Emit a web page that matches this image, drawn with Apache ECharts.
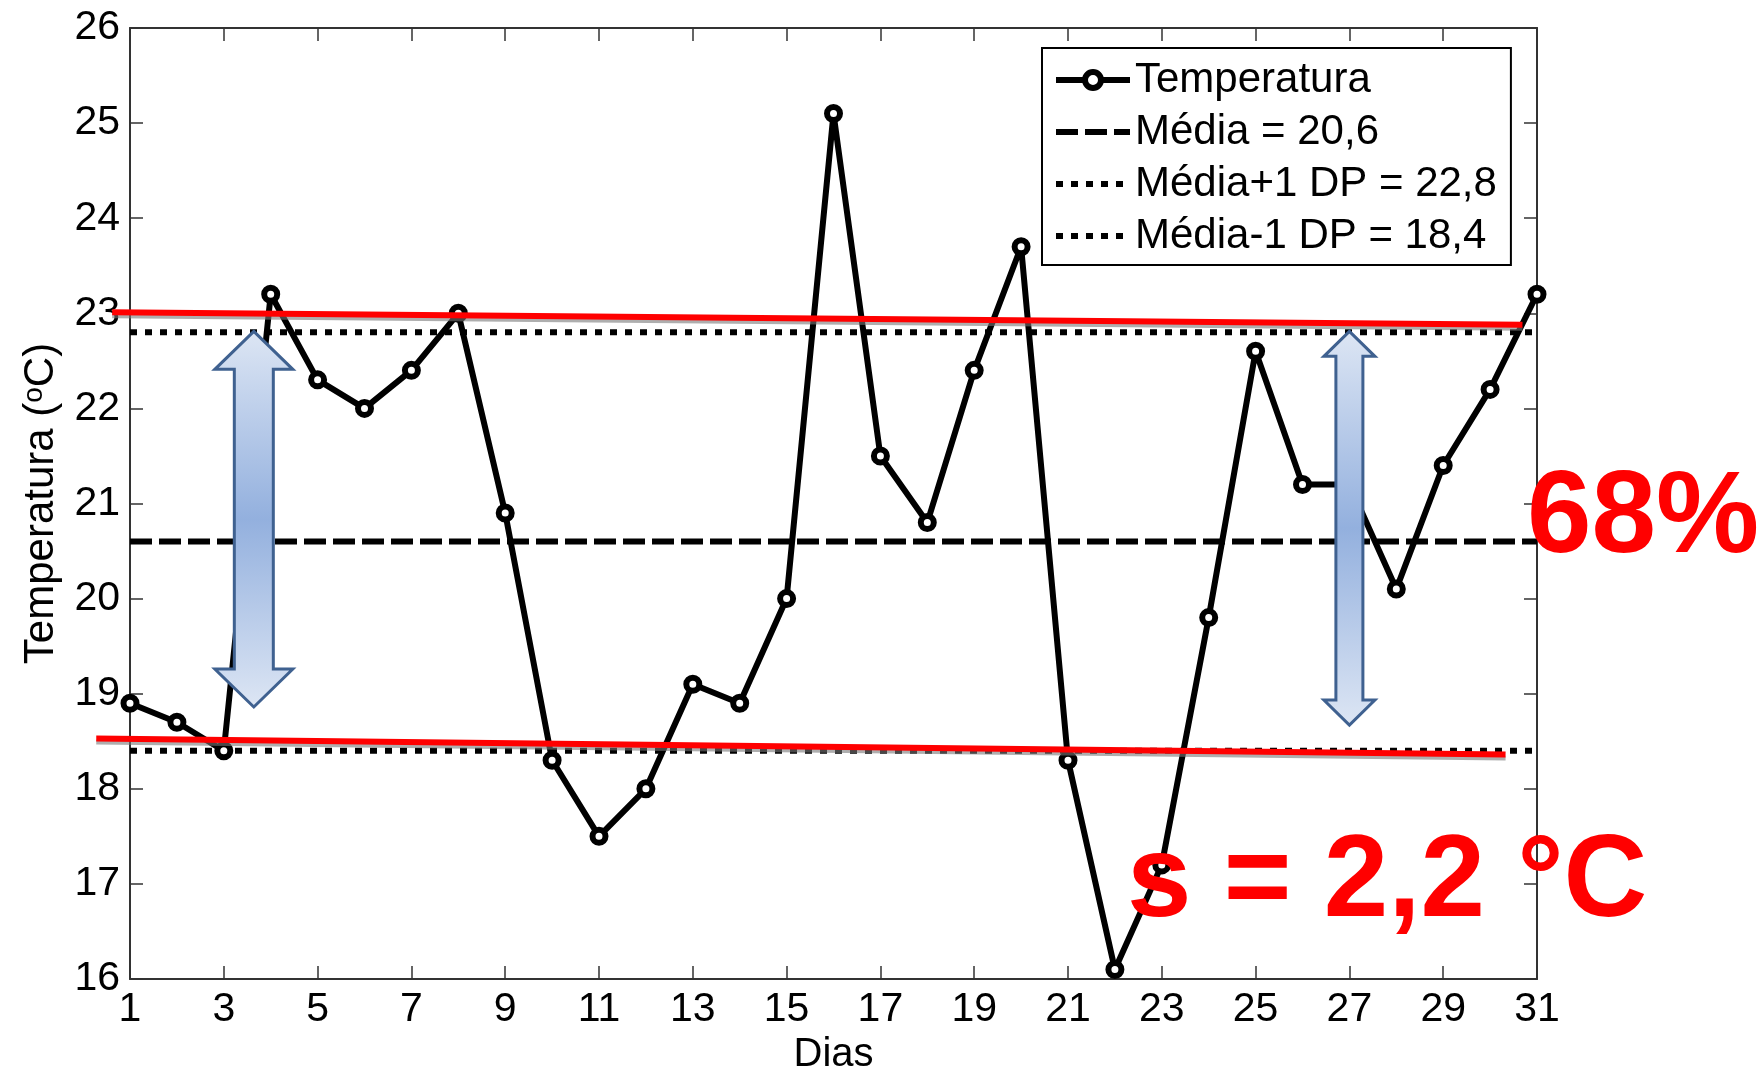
<!DOCTYPE html>
<html>
<head>
<meta charset="utf-8">
<title>Temperatura diária</title>
<script src="https://cdn.jsdelivr.net/npm/echarts@6/dist/echarts.min.js"></script>
<style>
html,body{margin:0;padding:0;background:#fff;}
#chart{width:1762px;height:1068px;}
</style>
</head>
<body>
<div id="chart"></div>
<script>
/* temperatura diária com média e +/- 1 desvio padrão */

var dias = [1,2,3,4,5,6,7,8,9,10,11,12,13,14,15,16,17,18,19,20,21,22,23,24,25,26,27,28,29,30,31];
var temperatura = [18.9,18.7,18.4,23.2,22.3,22.0,22.4,23.0,20.9,18.3,17.5,18.0,19.1,18.9,20.0,25.1,21.5,20.8,22.4,23.7,18.3,16.1,17.2,19.8,22.6,21.2,21.2,20.1,21.4,22.2,23.2];
var media = 20.6;
var mediaMais = 22.8;
var mediaMenos = 18.4;
var xTicks = [1,3,5,7,9,11,13,15,17,19,21,23,25,27,29,31];
var nomes = ['Temperatura','Média = 20,6','Média+1 DP = 22,8','Média-1 DP = 18,4'];

// linhas vermelhas desenhadas à mão sobre a figura [dia, temp]
var linhaSup = [[0.62, 23.01], [30.69, 22.88]];
var linhaInf = [[0.28, 18.53], [30.33, 18.36]];
// setas duplas: [dia, topo, base]
var setas = [[3.64, 22.81, 18.86], [27.0, 22.81, 18.67]];

var FONT = "'Liberation Sans', Arial, sans-serif";
var AX = '#333';
var TRACO = [22, 7];
var PONTO = [7, 8];

var dom = document.getElementById('chart');
var myChart = echarts.init(dom);

function pares(xs, ys){
  var out = [];
  for (var i = 0; i < xs.length; i++) out.push([xs[i], ys[i]]);
  return out;
}
function horizontal(v){
  return [[dias[0], v], [dias[dias.length-1], v]];
}

function eixoX(pos, labels){
  return {
    type: 'value', min: 1, max: 31, position: pos,
    axisLine: {show: true, onZero: false, lineStyle: {color: AX, width: 2}},
    axisTick: {show: true, inside: true, length: 13, customValues: xTicks, lineStyle: {color: AX, width: 1.5}},
    axisLabel: {show: labels, customValues: xTicks, fontSize: 41, fontFamily: FONT, color: '#000', margin: 10},
    splitLine: {show: false}
  };
}
function eixoY(pos, labels){
  return {
    type: 'value', min: 16, max: 26, interval: 1, position: pos,
    axisLine: {show: true, onZero: false, lineStyle: {color: AX, width: 2}},
    axisTick: {show: true, inside: true, length: 13, lineStyle: {color: AX, width: 1.5}},
    axisLabel: {show: labels, fontSize: 41, fontFamily: FONT, color: '#000', margin: 10},
    splitLine: {show: false}
  };
}

var xA = eixoX('bottom', true);
xA.name = 'Dias'; xA.nameLocation = 'middle'; xA.nameGap = 52;
xA.nameTextStyle = {fontSize: 40, fontFamily: FONT, color: '#000'};
var yA = eixoY('left', true);
yA.name = 'Temperatura ({s|o}C)'; yA.nameLocation = 'middle'; yA.nameGap = 68;
yA.nameTextStyle = {fontSize: 42, fontFamily: FONT, color: '#000',
  rich: {s: {fontSize: 28, fontFamily: FONT, color: '#000', verticalAlign: 'top'}}};

option = {
  animation: false,
  backgroundColor: '#fff',
  grid: {left: 130, right: 225, top: 28, bottom: 89, containLabel: false, outerBoundsMode: 'none'},
  legend: {
    data: [
      {name: nomes[0]},
      {name: nomes[1], itemStyle: {opacity: 0}},
      {name: nomes[2], itemStyle: {opacity: 0}},
      {name: nomes[3], itemStyle: {opacity: 0}}
    ],
    orient: 'vertical',
    left: 1042, top: 48,
    padding: [11, 14, 8, 11],
    itemWidth: 74, itemHeight: 20, itemGap: 10,
    backgroundColor: '#fff', borderColor: '#000', borderWidth: 2,
    lineStyle: {width: 'inherit', type: 'inherit', color: '#000'},
    itemStyle: {borderWidth: 'inherit'},
    textStyle: {fontSize: 42, fontFamily: FONT, color: '#000'}
  },
  xAxis: [xA, eixoX('top', false)],
  yAxis: [yA, eixoY('right', false)],
  series: [
    {
      name: nomes[1], type: 'line', data: horizontal(media), symbol: 'none', silent: true,
      color: '#000', lineStyle: {color: '#000', width: 6, type: TRACO}, z: 2
    },
    {
      name: nomes[2], type: 'line', data: horizontal(mediaMais), symbol: 'none', silent: true,
      color: '#000', lineStyle: {color: '#000', width: 6, type: PONTO}, z: 2
    },
    {
      name: nomes[3], type: 'line', data: horizontal(mediaMenos), symbol: 'none', silent: true,
      color: '#000', lineStyle: {color: '#000', width: 6, type: PONTO}, z: 2
    },
    {
      name: nomes[0], type: 'line', data: pares(dias, temperatura),
      symbol: 'circle', symbolSize: 13, color: '#000',
      lineStyle: {color: '#000', width: 6},
      itemStyle: {color: '#fff', borderColor: '#000', borderWidth: 6},
      z: 3
    }
  ]
};
myChart.setOption(option, true);

function px(p){
  return myChart.convertToPixel({xAxisIndex: 0, yAxisIndex: 0}, p);
}

// linhas vermelhas, setas azuis e textos vermelhos
var graficos = [];
[linhaSup, linhaInf].forEach(function(l){
  var a = px(l[0]), b = px(l[1]);
  graficos.push({
    type: 'line', z: 90, silent: true,
    shape: {x1: a[0], y1: a[1] + 4, x2: b[0], y2: b[1] + 4},
    style: {stroke: 'rgba(120,120,120,0.6)', lineWidth: 4}
  });
  graficos.push({
    type: 'line', z: 91, silent: true,
    shape: {x1: a[0], y1: a[1], x2: b[0], y2: b[1]},
    style: {stroke: '#ff0000', lineWidth: 6}
  });
});

var cabeca = [[39, 38, 19.5], [25.5, 25, 13.5]]; // meia largura, altura da ponta, meia largura da haste
setas.forEach(function(s, i){
  var t = px([s[0], s[1]]);
  var b = px([s[0], s[2]]);
  var cx = t[0], top = t[1], bot = b[1];
  var hw = cabeca[i][0], hh = cabeca[i][1], sw = cabeca[i][2];
  graficos.push({
    type: 'polygon', z: 100, silent: true,
    shape: {points: [
      [cx, top], [cx+hw, top+hh], [cx+sw, top+hh], [cx+sw, bot-hh], [cx+hw, bot-hh],
      [cx, bot], [cx-hw, bot-hh], [cx-sw, bot-hh], [cx-sw, top+hh], [cx-hw, top+hh]
    ]},
    style: {
      fill: {type: 'linear', x: 0, y: 0, x2: 0, y2: 1, colorStops: [
        {offset: 0, color: '#dde6f4'}, {offset: 0.5, color: '#93b0de'}, {offset: 1, color: '#dde6f4'}
      ]},
      stroke: '#3f6190', lineWidth: 3, lineJoin: 'miter'
    }
  });
});
graficos.push({
  type: 'text', z: 110, silent: true, x: 1527, y: 520,
  style: {text: '68%', fontSize: 116, fontWeight: 'bold', fontFamily: FONT, fill: '#ff0000', align: 'left', verticalAlign: 'middle'}
});
graficos.push({
  type: 'text', z: 110, silent: true, x: 1127, y: 884,
  style: {text: 's = 2,2 °C', fontSize: 116, fontWeight: 'bold', fontFamily: FONT, fill: '#ff0000', align: 'left', verticalAlign: 'middle'}
});
myChart.setOption({graphic: graficos});
</script>
</body>
</html>
